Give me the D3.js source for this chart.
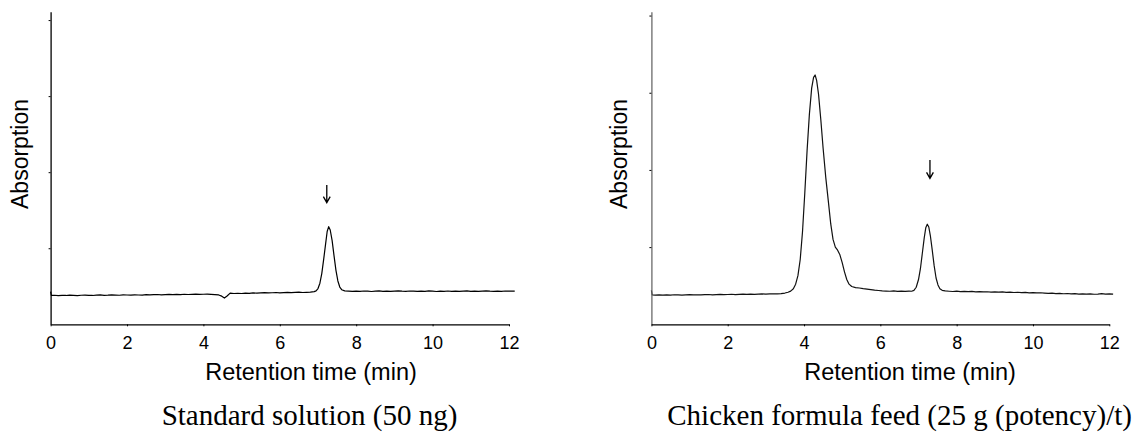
<!DOCTYPE html>
<html>
<head>
<meta charset="utf-8">
<script src="https://cdn.jsdelivr.net/npm/d3@7"></script>
<style>
  html, body { margin: 0; padding: 0; background: #fff; }
  svg { display: block; }
</style>
</head>
<body>
<svg id="chart" width="1133" height="432"></svg>
<script>
// ---------- DATA (time in min, absorption in arbitrary units) ----------
const xTicks = [0, 2, 4, 6, 8, 10, 12];
const yTicks = [1, 2, 3, 4];
const xTitle = "Retention time (min)";
const yTitle = "Absorption";
const captions = ["Standard solution (50 ng)", "Chicken formula feed (25 g (potency)/t)"];
const arrowTimes = [7.23, 7.30];
const arrowTops = [1.83, 2.13];
const arrowBottoms = [1.60, 1.89];

const standardTrace = [
  [0.00,0.43],[0.02,0.380],[0.1,0.382],[0.2,0.378],[0.3,0.381],[0.4,0.379],[0.5,0.383],[0.6,0.380],
  [0.7,0.377],[0.8,0.382],[0.9,0.384],[1.0,0.380],[1.1,0.379],[1.2,0.384],[1.3,0.386],[1.4,0.381],
  [1.5,0.383],[1.6,0.387],[1.7,0.384],[1.8,0.382],[1.9,0.386],[2.0,0.385],[2.1,0.383],[2.2,0.388],
  [2.3,0.385],[2.4,0.384],[2.5,0.389],[2.6,0.386],[2.7,0.390],[2.8,0.392],[2.9,0.388],[3.0,0.391],
  [3.1,0.394],[3.2,0.390],[3.3,0.393],[3.4,0.391],[3.5,0.395],[3.6,0.392],[3.7,0.394],[3.8,0.397],
  [3.9,0.393],[4.0,0.395],[4.1,0.396],[4.2,0.393],[4.3,0.390],[4.4,0.386],[4.48,0.370],[4.55,0.345],
  [4.62,0.372],[4.7,0.410],[4.8,0.405],[4.9,0.408],[5.0,0.405],[5.1,0.410],[5.2,0.407],[5.3,0.412],
  [5.4,0.409],[5.5,0.413],[5.6,0.416],[5.7,0.412],[5.8,0.415],[5.9,0.418],[6.0,0.414],[6.1,0.417],
  [6.2,0.420],[6.3,0.416],[6.4,0.419],[6.5,0.422],[6.6,0.418],[6.7,0.421],[6.8,0.424],[6.9,0.430],
  [6.95,0.440],[7.0,0.470],[7.05,0.540],[7.1,0.670],[7.15,0.860],[7.2,1.060],[7.24,1.220],[7.28,1.284],
  [7.32,1.240],[7.37,1.100],[7.42,0.900],[7.47,0.710],[7.52,0.570],[7.57,0.490],[7.62,0.455],[7.7,0.440],
  [7.8,0.436],[7.9,0.432],[8.0,0.437],[8.1,0.433],[8.2,0.438],[8.3,0.435],[8.4,0.431],[8.5,0.436],
  [8.6,0.439],[8.7,0.434],[8.8,0.437],[8.9,0.432],[9.0,0.436],[9.1,0.440],[9.2,0.435],[9.3,0.433],
  [9.4,0.438],[9.5,0.436],[9.6,0.432],[9.7,0.437],[9.8,0.434],[9.9,0.439],[10.0,0.435],[10.1,0.431],
  [10.2,0.436],[10.3,0.433],[10.4,0.438],[10.5,0.434],[10.6,0.437],[10.7,0.432],[10.8,0.436],[10.9,0.439],
  [11.0,0.434],[11.1,0.437],[11.2,0.433],[11.3,0.436],[11.4,0.440],[11.5,0.435],[11.6,0.432],[11.7,0.437],
  [11.8,0.434],[11.9,0.438],[12.0,0.435],[12.15,0.437]
];

const feedTrace = [
  [0.00,0.44],[0.02,0.380],[0.1,0.378],[0.2,0.381],[0.3,0.377],[0.4,0.380],[0.5,0.379],[0.6,0.383],
  [0.7,0.380],[0.8,0.378],[0.9,0.382],[1.0,0.385],[1.1,0.381],[1.2,0.383],[1.3,0.380],[1.4,0.384],
  [1.5,0.386],[1.6,0.382],[1.7,0.385],[1.8,0.388],[1.9,0.384],[2.0,0.386],[2.1,0.389],[2.2,0.385],
  [2.3,0.388],[2.4,0.391],[2.5,0.387],[2.6,0.390],[2.7,0.388],[2.8,0.392],[2.9,0.394],[3.0,0.390],
  [3.1,0.393],[3.2,0.396],[3.3,0.394],[3.4,0.398],[3.5,0.405],[3.58,0.415],[3.65,0.430],[3.72,0.460],
  [3.78,0.520],[3.84,0.630],[3.90,0.840],[3.96,1.200],[4.02,1.700],[4.08,2.250],[4.14,2.720],[4.20,3.060],
  [4.25,3.200],[4.29,3.230],[4.33,3.160],[4.38,2.980],[4.44,2.650],[4.50,2.280],[4.57,1.900],[4.64,1.580],
  [4.70,1.300],[4.76,1.100],[4.82,1.000],[4.88,0.960],[4.94,0.900],[5.00,0.800],[5.06,0.680],[5.12,0.580],
  [5.18,0.520],[5.25,0.490],[5.35,0.475],[5.45,0.470],[5.55,0.462],[5.65,0.456],[5.75,0.450],[5.85,0.443],
  [5.95,0.438],[6.05,0.433],[6.15,0.430],[6.25,0.428],[6.35,0.432],[6.45,0.427],[6.55,0.430],[6.65,0.426],
  [6.75,0.431],[6.82,0.428],[6.88,0.440],[6.94,0.480],[7.00,0.580],[7.05,0.720],[7.10,0.920],[7.15,1.120],
  [7.19,1.250],[7.23,1.297],[7.27,1.260],[7.31,1.150],[7.36,0.960],[7.41,0.760],[7.46,0.600],[7.51,0.510],
  [7.56,0.460],[7.62,0.440],[7.70,0.432],[7.8,0.428],[7.9,0.425],[8.0,0.429],[8.1,0.424],[8.2,0.427],
  [8.3,0.423],[8.4,0.426],[8.5,0.421],[8.6,0.424],[8.7,0.419],[8.8,0.422],[8.9,0.418],[9.0,0.421],
  [9.1,0.416],[9.2,0.419],[9.3,0.414],[9.4,0.417],[9.5,0.412],[9.6,0.415],[9.7,0.410],[9.8,0.413],
  [9.9,0.408],[10.0,0.411],[10.1,0.406],[10.2,0.409],[10.3,0.404],[10.4,0.400],[10.5,0.403],[10.6,0.398],
  [10.7,0.401],[10.8,0.396],[10.9,0.399],[11.0,0.394],[11.1,0.397],[11.2,0.392],[11.3,0.395],[11.4,0.390],
  [11.5,0.394],[11.6,0.389],[11.7,0.392],[11.8,0.397],[11.9,0.391],[12.0,0.393],[12.1,0.390]
];

// ---------- DRAWING ----------
const svg = d3.select("#chart");
svg.append("rect").attr("width", 1133).attr("height", 432).attr("fill", "#fff");

const panels = [
  { trace: standardTrace, x0: 50.6, x1: 509.0, yTop: 11.7, yBot: 324.3, yMax: 4.11,
    yAxisColor: "#000", traceColor: "#000", yTitleX: 28, xTitleX: 311, capX: 309.5 },
  { trace: feedTrace, x0: 651.4, x1: 1109.3, yTop: 11.7, yBot: 324.3, yMax: 4.05,
    yAxisColor: "#6a6a6a", traceColor: "#111", yTitleX: 627, xTitleX: 910, capX: 899.6 }
];

panels.forEach((p, i) => {
  const x = d3.scaleLinear().domain([0, 12]).range([p.x0, p.x1]);
  const y = d3.scaleLinear().domain([0, p.yMax]).range([p.yBot, p.yTop]);
  const g = svg.append("g");

  // trace
  const line = d3.line().x(d => x(d[0])).y(d => y(d[1]));
  g.append("path").datum(p.trace)
    .attr("fill", "none").attr("stroke", p.traceColor)
    .attr("stroke-width", 1.2).attr("stroke-linejoin", "round")
    .attr("d", line);

  // y axis
  const ya = g.append("g").attr("transform", `translate(${p.x0},0)`)
    .call(d3.axisLeft(y).tickValues(yTicks).tickSizeInner(2).tickSizeOuter(0).tickFormat(""));
  ya.select(".domain").attr("stroke", p.yAxisColor).attr("stroke-width", 1.3);
  ya.selectAll(".tick line").attr("stroke", "#000");

  // x axis
  const xa = g.append("g").attr("transform", `translate(0,${p.yBot})`)
    .call(d3.axisBottom(x).tickValues(xTicks).tickSizeInner(2).tickSizeOuter(0).tickPadding(10));
  xa.select(".domain").attr("stroke", "#000").attr("stroke-width", 1.3);
  xa.selectAll(".tick line").attr("stroke", "#000");
  xa.selectAll(".tick text")
    .attr("font-family", "'Liberation Sans', Arial, sans-serif")
    .attr("font-size", 18).attr("fill", "#000");

  // axis titles
  g.append("text").attr("x", p.xTitleX).attr("y", 380)
    .attr("text-anchor", "middle")
    .attr("font-family", "'Liberation Sans', Arial, sans-serif")
    .attr("font-size", 23.5).attr("fill", "#000").text(xTitle);

  g.append("text")
    .attr("transform", `translate(${p.yTitleX},154) rotate(-90)`)
    .attr("text-anchor", "middle")
    .attr("font-family", "'Liberation Sans', Arial, sans-serif")
    .attr("font-size", 23).attr("fill", "#000").text(yTitle);

  // arrow marker over the target peak (shaft + head)
  const ax = x(arrowTimes[i]), aTop = y(arrowTops[i]), aBot = y(arrowBottoms[i]);
  const arrowPath = d3.path();
  arrowPath.moveTo(ax, aTop); arrowPath.lineTo(ax, aBot);
  arrowPath.moveTo(ax - 3.4, aBot - 6); arrowPath.lineTo(ax, aBot); arrowPath.lineTo(ax + 3.4, aBot - 6);
  g.append("path").attr("d", arrowPath.toString())
    .attr("fill", "none").attr("stroke", "#000").attr("stroke-width", 1.3)
    .attr("stroke-linejoin", "miter");

  // caption
  g.append("text").attr("x", p.capX).attr("y", 425)
    .attr("text-anchor", "middle")
    .attr("font-family", "'Liberation Serif', 'Times New Roman', serif")
    .attr("font-size", 29).attr("fill", "#000").text(captions[i]);
});
</script>
</body>
</html>
